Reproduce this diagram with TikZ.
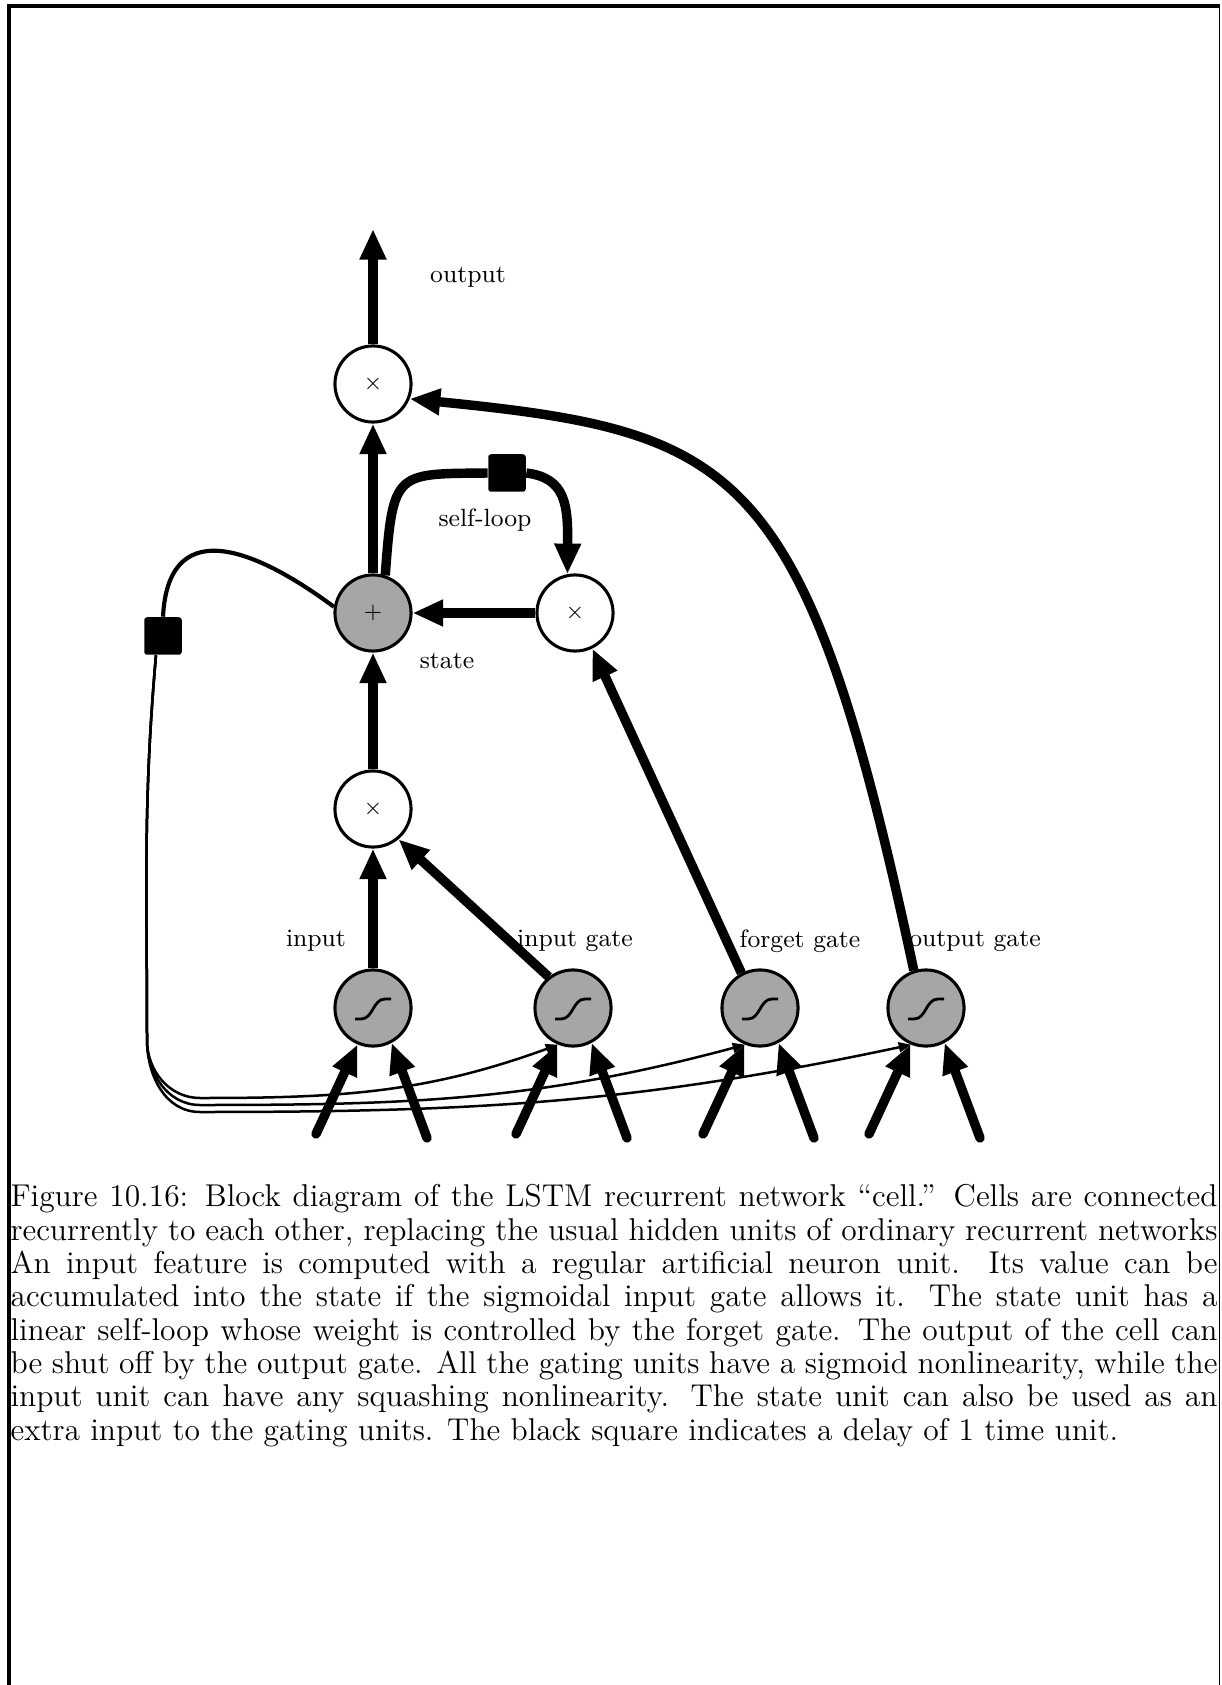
\documentclass[tikz,border=0pt]{standalone}
\usepackage{tikz}
\usetikzlibrary{arrows.meta}
\definecolor{unitgray}{gray}{0.65}

\tikzset{
  opnode/.style={circle, draw, line width=1.1pt, minimum size=27.4pt, inner sep=0pt, fill=white, font=\footnotesize},
  signode/.style={opnode, fill=unitgray},
  delaybox/.style={fill=black, minimum size=13.5pt, inner sep=0pt, rounded corners=1pt},
  thickarrow/.style={line width=3.4pt, -{Triangle[length=11pt,width=9pt]}},
  feedarrow/.style={line width=0.9pt, -{Triangle[length=4.5pt,width=3.6pt]}},
  lbl/.style={font=\small},
  caption/.style={text width=434.5pt, align=justify, inner sep=0pt, font={\fontsize{11.35pt}{12pt}\selectfont}},
}

\begin{document}
\begin{tikzpicture}[x=0.36pt, y=-0.36pt]
            \useasboundingbox (0,0) rectangle (1221,1685);
            % frame
            \draw[line width=1.1pt] (9,1685) -- (9,6) -- (1219.5,6);
            \draw[line width=0.5pt] (1219.5,6) -- (1219.5,1685);

            % cell units
            \node[opnode] (outx) at (373,384) {$\times$};
            \node[opnode, fill=unitgray] (state) at (373,613) {$+$};
            \node[opnode] (selfx) at (575,613) {$\times$};
            \node[opnode] (inx) at (373,809) {$\times$};
            \foreach \g/\x in {in/373, ig/573, fg/760, og/926}
                \node[signode] (\g) at (\x,1008) {};
            \node[delaybox] (delay1) at (507,473) {};
            \node[delaybox] (delay2) at (163,636) {};
            \coordinate (outtop) at (373,229);

            % labels
            \node[lbl] (outlbl) at (468,277) {output};
            \node[lbl] (looplbl) at (485,520) {self-loop};
            \node[lbl] (statelbl) at (447,661) {state};
            \node[lbl] (inlbl) at (316,941) {input};
            \node[lbl] (iglbl) at (575,941) {input gate};
            \node[lbl] (fglbl) at (800,941) {forget gate};
            \node[lbl] (oglbl) at (975,941) {output gate};

            % sigmoids and their inputs
            \foreach \g in {in,ig,fg,og} {
                \draw[line width=1pt] ([shift={(-18,11)}]\g.center) -- ++(6,0) to[out=0,in=180] ++(24,-20) -- ++(6,0);
                \coordinate (\g-a) at ([shift={(-57,126)}]\g.center);
                \coordinate (\g-b) at ([shift={(54,130)}]\g.center);
                \draw[thickarrow, line cap=round] (\g-a) -- (\g.247);
                \draw[thickarrow, line cap=round] (\g-b) -- (\g.298);
            }

            % main flow
            \draw[thickarrow] (outx) -- (outtop);
            \draw[thickarrow] (state) -- (outx);
            \draw[thickarrow] (selfx) -- (state);
            \draw[thickarrow] (inx) -- (state);
            \draw[thickarrow] (in) -- (inx);
            \draw[thickarrow] (ig.128) -- (inx.310);
            \draw[thickarrow] (fg.118) -- (selfx.296);
            \draw[thickarrow] (og.108) .. controls (805,461) and (739,432) .. (outx.338);

            % self-loop
            \draw[line width=3.4pt] (state.72) .. controls (393,470) and (395,474) .. (delay1.west);
            \draw[thickarrow] (delay1.east) .. controls (566,478) and (568,505) .. (selfx.101);

            % state back to the gates
            \draw[line width=1.5pt] (state.171) .. controls (245,541) and (168,520) .. (delay2.north);
            \draw[feedarrow] (delay2.250) to[out=-95,in=90] (147,1040) to[out=-90,in=180] (200,1098) to[out=0,in=200] (ig.248);
            \draw[feedarrow] (delay2.250) to[out=-95,in=90] (147,1040) to[out=-90,in=180] (200,1105) to[out=0,in=195] (fg.248);
            \draw[feedarrow] (delay2.250) to[out=-95,in=90] (147,1040) to[out=-90,in=180] (200,1112) to[out=0,in=192] (og.248);

            % caption
            \node[caption, anchor=north west] (cap) at (10,1184) {Figure 10.16: Block diagram of the LSTM recurrent network “cell.” Cells are connected\linebreak
            recurrently to each other, replacing the usual hidden units of ordinary recurrent networks\linebreak
            An input feature is computed with a regular artificial neuron unit. Its value can be\linebreak
            accumulated into the state if the sigmoidal input gate allows it. The state unit has a\linebreak
            linear self-loop whose weight is controlled by the forget gate. The output of the cell can\linebreak
            be shut off by the output gate. All the gating units have a sigmoid nonlinearity, while the\linebreak
            input unit can have any squashing nonlinearity. The state unit can also be used as an\linebreak
            extra input to the gating units. The black square indicates a delay of 1 time unit.};
        \end{tikzpicture}
\end{document}
